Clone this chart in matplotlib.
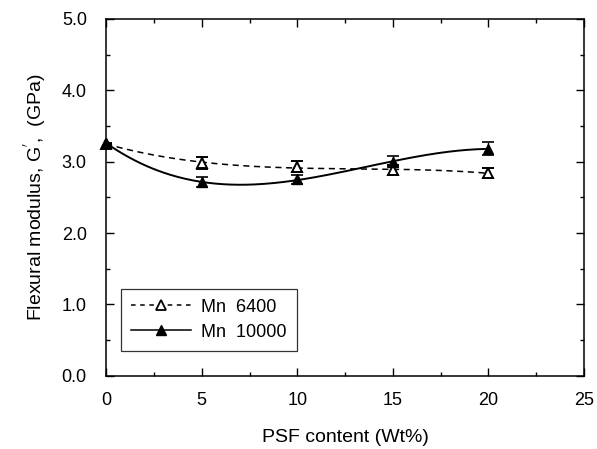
import numpy as np
import matplotlib
matplotlib.use('Agg')
import matplotlib.pyplot as plt
from matplotlib.ticker import MultipleLocator

plt.rcParams['font.family'] = ['Liberation Sans', 'DejaVu Sans']

psf = [0, 5, 10, 15, 20]
mn6400 = [3.25, 2.98, 2.93, 2.88, 2.84]
mn6400_err = [0.0, 0.08, 0.08, 0.07, 0.07]
mn10000 = [3.26, 2.71, 2.75, 3.00, 3.18]
mn10000_err = [0.0, 0.07, 0.06, 0.08, 0.09]

fig = plt.figure(figsize=(5.97, 4.49), dpi=100)
ax = fig.add_axes([0.178, 0.163, 0.800, 0.795])

xs = np.linspace(0, 20, 200)
fit1 = np.polyval(np.polyfit(psf, mn6400, 3), xs)
fit2 = np.polyval(np.polyfit(psf, mn10000, 3), xs)

ax.plot(xs, fit1, 'k--', lw=1.1, dashes=(4, 3))
ax.plot(xs, fit2, 'k-', lw=1.4)
e1 = ax.errorbar(psf, mn6400, yerr=mn6400_err, fmt='^', mfc='white', mec='black',
                 ms=6.5, mew=1.4, ecolor='black', elinewidth=1, capsize=4, capthick=1.2)
e2 = ax.errorbar(psf, mn10000, yerr=mn10000_err, fmt='^', mfc='black', mec='black',
                 ms=6.5, ecolor='black', elinewidth=1, capsize=4, capthick=1.2)
for e in (e1, e2):
    e.lines[0].set_clip_on(False)

# legend handles
h1, = ax.plot([], [], 'k--', dashes=(3, 3), marker='^', mfc='white', mec='black', ms=6.5, mew=1.3, lw=1.1)
h2, = ax.plot([], [], 'k-', marker='^', mfc='black', ms=6.5, lw=1.1)
leg = ax.legend([h1, h2], ['Mn  6400', 'Mn  10000'], loc='lower left',
                bbox_to_anchor=(0.012, 0.045), fontsize=13, frameon=True,
                fancybox=False, edgecolor='black', handlelength=3.3,
                borderpad=0.55, labelspacing=0.45, handletextpad=0.6)
leg.get_frame().set_linewidth(0.9)

ax.set_xlim(0, 25)
ax.set_ylim(0, 5)
ax.xaxis.set_major_locator(MultipleLocator(5))
ax.xaxis.set_minor_locator(MultipleLocator(2.5))
ax.yaxis.set_major_locator(MultipleLocator(1))
ax.yaxis.set_minor_locator(MultipleLocator(0.5))
ax.yaxis.set_major_formatter(matplotlib.ticker.FormatStrFormatter('%.1f'))
ax.tick_params(which='both', direction='in', top=True, right=True, labelsize=13)
ax.tick_params(which='major', length=6, width=1)
ax.tick_params(which='minor', length=3, width=1)
ax.tick_params(axis='x', pad=12)
ax.tick_params(axis='y', pad=14)
for s in ax.spines.values():
    s.set_linewidth(1.1)

ax.set_xlabel('PSF content (Wt%)', fontsize=14, labelpad=14)
ax.set_ylabel("Flexural modulus, G$^{'}$,  (GPa)", fontsize=14, labelpad=10)

fig.savefig('out.png', dpi=100)
